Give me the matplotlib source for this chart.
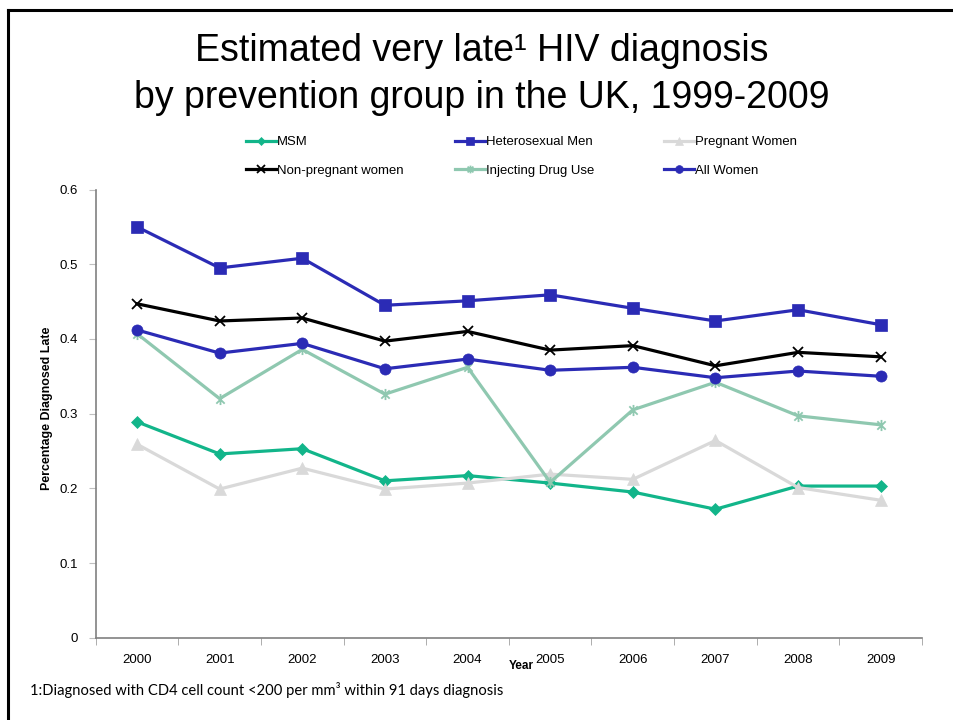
import matplotlib.pyplot as plt
import numpy as np
from matplotlib.lines import Line2D
from matplotlib.path import Path

plt.rcParams['font.family'] = ['Liberation Sans', 'DejaVu Sans']

years = ['2000', '2001', '2002', '2003', '2004', '2005', '2006', '2007', '2008', '2009']

msm = [0.289, 0.246, 0.253, 0.210, 0.217, 0.207, 0.195, 0.172, 0.203, 0.203]
het_men = [0.550, 0.495, 0.508, 0.445, 0.451, 0.459, 0.441, 0.424, 0.439, 0.419]
pregnant = [0.259, 0.199, 0.227, 0.199, 0.207, 0.219, 0.212, 0.264, 0.201, 0.184]
non_pregnant = [0.447, 0.424, 0.428, 0.397, 0.410, 0.385, 0.391, 0.364, 0.382, 0.376]
idu = [0.407, 0.320, 0.386, 0.326, 0.362, 0.208, 0.305, 0.342, 0.297, 0.285]
all_women = [0.412, 0.381, 0.394, 0.360, 0.373, 0.358, 0.362, 0.348, 0.357, 0.350]

y_ticks = [0, 0.1, 0.2, 0.3, 0.4, 0.5, 0.6]
y_tick_labels = ['0', '0.1', '0.2', '0.3', '0.4', '0.5', '0.6']

# excel style star: an X with a vertical bar through it
star = Path([(0, -1), (0, 1), (-0.75, -0.75), (0.75, 0.75), (-0.75, 0.75), (0.75, -0.75)],
            [Path.MOVETO, Path.LINETO] * 3)

blue = '#2b2bb5'
series = [
    ('MSM', msm, '#12b58a', 'D', 6),
    ('Heterosexual Men', het_men, blue, 's', 8),
    ('Pregnant Women', pregnant, '#d9d9d9', '^', 8),
    ('Non-pregnant women', non_pregnant, 'black', 'x', 7.5),
    ('Injecting Drug Use', idu, '#8fc8b0', star, 8),
    ('All Women', all_women, blue, 'o', 8),
]

fig = plt.figure(figsize=(9.54, 7.2), dpi=100)
ax = fig.add_axes([0.1003, 0.1143, 0.8662, 0.6225])

x = np.arange(len(years))
handles = {}
for name, vals, col, mk, ms in series:
    thin = mk == 'x' or mk is star
    h, = ax.plot(x, vals, color=col, lw=2.3, marker=mk, markersize=ms,
                 markeredgewidth=1.3 if thin else 0.5,
                 markeredgecolor=col, markerfacecolor=col, label=name)
    handles[name] = h

ax.set_xlim(-0.5, len(years) - 0.5)
ax.set_ylim(0, 0.6)
ax.set_yticks(y_ticks)
ax.set_yticklabels(y_tick_labels)
ax.set_xticks(x)
ax.set_xticklabels(years)
ax.set_xticks(np.arange(-0.5, len(years)), minor=True)
ax.tick_params(axis='x', which='major', length=0, pad=12, labelsize=9.5)
ax.tick_params(axis='x', which='minor', length=5, color='#a0a0a0', direction='out')
ax.tick_params(axis='y', length=5, color='#c0c0c0', labelsize=9.5, pad=8)
for s in ('top', 'right'):
    ax.spines[s].set_visible(False)
for s in ('left', 'bottom'):
    ax.spines[s].set_color('#808080')
    ax.spines[s].set_linewidth(1.2)

ax.set_ylabel('Percentage Diagnosed Late', fontsize=8.9, fontweight='bold')
ax.yaxis.set_label_coords(-0.0517, 0.5125)
fig.text(0.546, 0.0745, 'Year', fontsize=8.5, fontweight='bold', ha='center', va='center')

# legend: three columns of two entries, evenly spaced
columns = [['MSM', 'Non-pregnant women'],
           ['Heterosexual Men', 'Injecting Drug Use'],
           ['Pregnant Women', 'All Women']]
col_left = [246, 455, 664]
for names, px in zip(columns, col_left):
    leg = fig.legend([handles[n] for n in names], names, loc='center left',
                     bbox_to_anchor=(px / 954, 1 - 156.5 / 720), frameon=False,
                     fontsize=9.45, handlelength=2.3, handletextpad=0.05,
                     labelspacing=1.25, borderpad=0, borderaxespad=0,
                     markerscale=0.7)

fig.text(0.505, 0.929, 'Estimated very late\u00b9 HIV diagnosis', fontsize=27,
         ha='center', va='center')
fig.text(0.505, 0.864, 'by prevention group in the UK, 1999-2009', fontsize=27,
         ha='center', va='center')

fig.text(0.031, 0.042, '1:Diagnosed with CD4 cell count <200 per mm\u00b3 within 91 days diagnosis',
         fontsize=10.6, family=['Lato', 'DejaVu Sans'], ha='left', va='center')

# slide frame
fig.add_artist(Line2D([0.0084, 0.0084], [0, 0.9865], transform=fig.transFigure,
                      color='black', lw=2.2))
fig.add_artist(Line2D([0.0084, 1.0], [0.9865, 0.9865], transform=fig.transFigure,
                      color='black', lw=2.2))

fig.savefig('out.png', dpi=100)
